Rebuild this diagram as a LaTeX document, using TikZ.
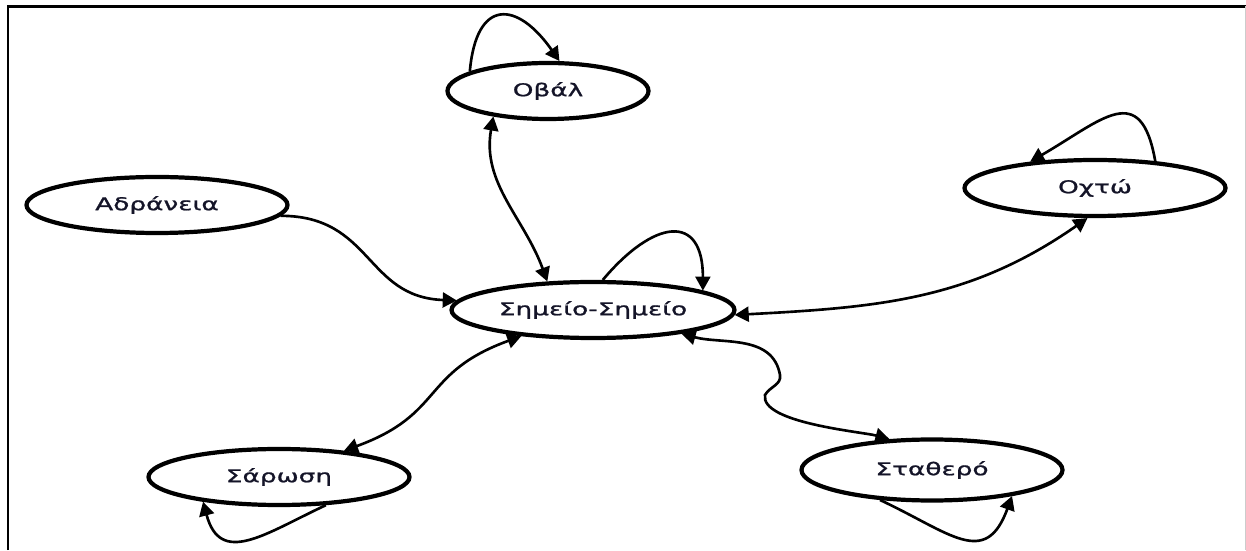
\documentclass[tikz,border=0pt]{standalone}
\usepackage{fontspec}
\newfontfamily\greekfont[FakeStretch=1.5, FakeBold=1.2]{DejaVu Sans}
\usetikzlibrary{arrows.meta}
\usetikzlibrary{shapes.geometric}

\definecolor{labeltext}{RGB}{20,20,40}

\tikzset{
    state/.style={
        ellipse, draw=black, line width=2.4pt,
        minimum width=5.22cm, minimum height=1.12cm,
        text=labeltext,
        font=\greekfont\fontsize{10}{12}\selectfont,
    },
    link/.style={
        line width=1.5pt,
    },
}

\begin{document}
\begin{tikzpicture}[>={Triangle[length=8pt,width=8.5pt]}]
        \useasboundingbox (0,0) rectangle (24.92,11);

        % frame
        \draw[line width=1.4pt] (0.16,0) -- (0.16,10.874) -- (24.92,10.874);
        \draw[gray!40, line width=0.5pt] (24.9,0) -- (24.9,10.874);

        % states
        \node (sim) at(11.86,4.80) [state] {Σημείο-Σημείο};
        \node (adr) at(3.14,6.90) [state] {Αδράνεια};
        \node (ova) at(10.96,9.18) [state, minimum width=4.02cm] {Οβάλ};
        \node (och) at(21.90,7.24) [state] {Οχτώ};
        \node (sar) at(5.58,1.46) [state] {Σάρωση};
        \node (sta) at(18.64,1.60) [state, minimum height=1.22cm] {Σταθερό};

        % transitions
        \draw[link, ->] (adr.-5) to[out=0, in=178, looseness=1.2] (sim.176);
        \draw[link, <->] (ova.205) to[out=-100, in=110] (sim.148);
        \draw[link, <->] (sim.-2) to[out=3, in=215] (och.256);
        \draw[link, <->] (sim.200) to[out=200, in=20, looseness=1.3] (sar.22);
        \draw[link, <->] (sim.-15) to[out=-15, in=100] (15.6,3.5)
            to[out=-80, in=60] (15.3,3.1)
            to[out=-100, in=165, looseness=0.55] (sta.144);

        % loops
        \draw[link, ->] (ova.166) to[out=85, in=125, looseness=2.1] (ova.69);
        \draw[link, ->] (sim.72) to[out=50, in=90, looseness=2] (sim.10);
        \draw[link, ->] (och.24) to[out=100, in=30, looseness=1.7] (och.158);
        \draw[link, ->] (sar.-31) to[out=-155, in=-75, looseness=1.4] (sar.198);
        \draw[link, ->] (sta.210) to[out=-25, in=-110, looseness=1.5] (sta.-18);
    \end{tikzpicture}
\end{document}
